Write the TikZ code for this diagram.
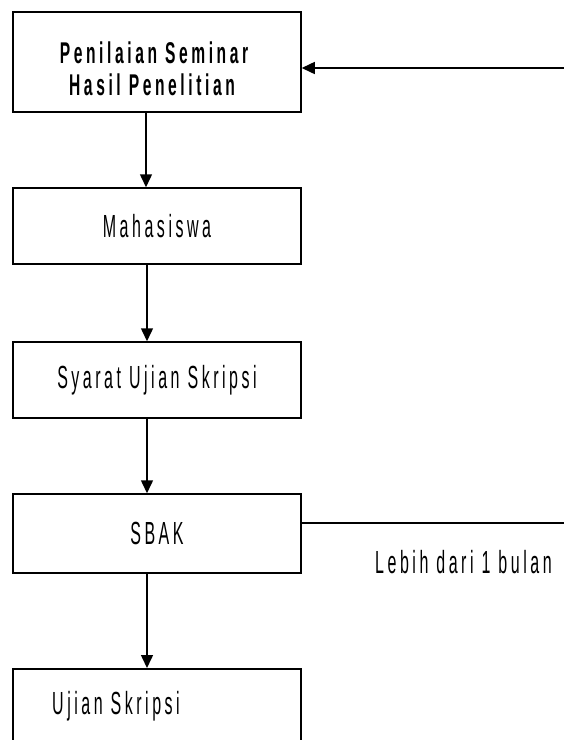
\documentclass[tikz,border=0pt]{standalone}
\usepackage{fontspec}
\setmainfont{Liberation Sans}[FakeStretch=0.5, LetterSpace=11, BoldFeatures={FakeStretch=0.52, LetterSpace=12}]
\usetikzlibrary{arrows.meta}
\begin{document}
\begin{tikzpicture}[x=1pt,y=-1pt,
  box/.style={draw=black, line width=1.5pt, minimum width=288pt, inner sep=0pt, font=\fontsize{32}{34}\selectfont},
  txt/.style={inner sep=0pt, font=\fontsize{32}{34}\selectfont},
  conn/.style={line width=1.5pt, draw=black},
  arr/.style={conn, -{Triangle[length=13pt,width=12pt]}}]
\useasboundingbox (0,0) rectangle (564,740);
\clip (0,0) rectangle (564,740);
% boxes
\node[box, minimum height=100pt] (b1) at (157,62) {};
\node[txt, anchor=base, font=\fontsize{30}{32}\selectfont\bfseries] (t1a) at (154,63) {Penilaian Seminar};
\node[txt, anchor=base, font=\fontsize{30}{32}\selectfont\bfseries] (t1b) at (152,95) {Hasil Penelitian};
\node[box, minimum height=76pt] (b2) at (157,226) {Mahasiswa};
\node[box, minimum height=76pt] (b3) at (157,380) {Syarat Ujian Skripsi};
\node[box, minimum height=79pt] (b4) at (157,533.5) {SBAK};
\node[box, minimum height=90pt, anchor=north] (b5) at (157,668) {};
\node[txt, anchor=base west] (t5) at (52,714) {Ujian Skripsi};
\node[txt, anchor=base west] (lbl) at (375,573) {Lebih dari 1 bulan};
% free ends
\coordinate (r1) at (564,68);
\coordinate (r4) at (564,523);
% connectors
\draw[arr] (b1.south -| 146,0) -- (b2.north -| 146,0);
\draw[arr] (b2.south -| 147,0) -- (b3.north -| 147,0);
\draw[arr] (b3.south -| 147,0) -- (b4.north -| 147,0);
\draw[arr] (b4.south -| 147,0) -- (b5.north -| 147,0);
\draw[arr] (r1) -- (r1 -| b1.east);
\draw[conn] (b4.east |- r4) -- (r4);
\end{tikzpicture}
\end{document}
